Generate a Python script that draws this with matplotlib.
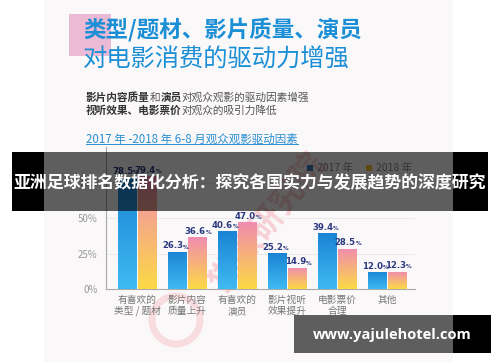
import numpy as np
import matplotlib
matplotlib.use('Agg')
import matplotlib.pyplot as plt
from matplotlib.patches import Rectangle, Circle
from matplotlib.colors import LinearSegmentedColormap
from matplotlib import font_manager

plt.rcParams['font.family'] = ['Noto Sans CJK SC', 'DejaVu Sans']

# data
categories = ['有喜欢的\n类型 / 题材', '影片内容\n质量上升', '有喜欢的\n演员',
              '影片视听\n效果提升', '电影票价\n合理', '其他']
vals_2017 = [78.5, 26.3, 40.6, 25.2, 39.4, 12.0]
vals_2018 = [79.4, 36.6, 47.0, 14.9, 28.5, 12.3]
series_names = ['2017 年', '2018 年']
y_ticks = [0, 25, 50, 75]
y_tick_labels = ['0%', '25%', '50%', '75%']

# narrow bold face for the value labels if one is installed
narrow = None
for f in font_manager.fontManager.ttflist:
    n = f.name.lower()
    if ('narrow' in n or 'condensed' in n or f.stretch == 'condensed') and f.weight in (700, 'bold'):
        narrow = f.fname
        break


def lab_font(size):
    if narrow:
        return font_manager.FontProperties(fname=narrow, size=size)
    return font_manager.FontProperties(family='DejaVu Sans', weight='bold', size=size * 0.85)


W, H = 500, 362
fig = plt.figure(figsize=(W / 100, H / 100), dpi=100)
fig.patch.set_facecolor('white')

# background layer in pixel coords
bg = fig.add_axes([0, 0, 1, 1], zorder=0)
bg.set_xlim(0, W)
bg.set_ylim(H, 0)
bg.axis('off')
bg.add_patch(Rectangle((44, 0), 409, H, color='#fbf8fa', lw=0))
bg.add_patch(Rectangle((69, 14), 42, 42, color='#ebbad4', lw=0))

blue = '#1b8fd6'
bg.text(83, 30, '类型/题材、影片质量、演员', fontsize=16.2, weight='bold',
        color=blue, va='center', ha='left')
bg.text(83, 60, '对电影消费的驱动力增强', fontsize=17.5, color=blue,
        va='center', ha='left')


def chain(parts, x, y, size):
    prev = None
    for txt, bold in parts:
        kw = dict(fontsize=size, weight='bold' if bold else 'normal',
                  color='#333333' if bold else '#555555', va='bottom', ha='left')
        if prev is None:
            prev = bg.text(x, y, txt, **kw)
        else:
            prev = bg.annotate(txt, xy=(1, 0), xycoords=prev, **kw)


chain([('影片内容质量', True), ('和', False), ('演员', True),
       ('对观众观影的驱动因素增强', False)], 86, 103, 7.7)
chain([('视听效果、电影票价', True), ('对观众的吸引力降低', False)], 86, 116, 7.7)

bg.text(86, 139, '2017 年 -2018 年 6-8 月观众观影驱动因素', fontsize=8.3,
        color='#2a8fd0', va='center', ha='left')
bg.plot([86, 298], [143.5, 143.5], color='#2a8fd0', lw=0.7)

# watermark
bg.text(268, 222, '猫眼研究院', fontsize=24, color='#e8404a', alpha=0.22,
        rotation=52, ha='center', va='center', weight='bold')
bg.add_patch(Circle((176, 320), 24, fill=False, ec='#e8404a', lw=5, alpha=0.15))

# legend
bg.add_patch(Rectangle((307, 165), 6, 6, color='#1a7fc8', lw=0))
bg.text(317, 168, series_names[0], fontsize=7.5, color='#888888', va='center')
bg.add_patch(Rectangle((366, 165), 6, 6, color='#f0c232', lw=0))
bg.text(376, 168, series_names[1], fontsize=7.5, color='#888888', va='center')

# chart axes
x0, x1, yb, yt = 106, 415, 289, 147
ax = fig.add_axes([x0 / W, (H - yb) / H, (x1 - x0) / W, (yb - yt) / H], zorder=5)
ax.patch.set_alpha(0)
x = np.arange(len(categories))
bw = 0.37
bars17 = ax.bar(x - bw / 2 - 0.01, vals_2017, bw, color='none', lw=0, zorder=3)
bars18 = ax.bar(x + bw / 2 + 0.01, vals_2018, bw, color='none', lw=0, zorder=3)

cm17 = LinearSegmentedColormap.from_list('b', ['#3fbaf2', '#1a84d4'])
cm18 = LinearSegmentedColormap.from_list('p', ['#fcd946', '#f7b27a', '#f18cb0'])
grad = np.linspace(0, 1, 100).reshape(-1, 1)
for bars, cm, dx in ((bars17, cm17, -3.4), (bars18, cm18, -1.0)):
    for b in bars:
        bx, by = b.get_x(), b.get_height()
        im = ax.imshow(grad, cmap=cm, origin='lower', aspect='auto',
                       extent=(bx, bx + b.get_width(), 0, by), zorder=3)
        im.set_clip_path(b)
        num = ax.annotate(f'{by:.1f}', xy=(bx + b.get_width() / 2, by),
                          xytext=(dx, 1), textcoords='offset points',
                          ha='center', va='bottom', fontproperties=lab_font(6.8),
                          color='#2b3a80', zorder=4)
        ax.annotate('%', xy=(1, 0.08), xycoords=num, ha='left', va='bottom',
                    fontproperties=lab_font(4.6), color='#2b3a80', zorder=4)

ax.set_xlim(-0.62, 5.56)
ax.set_ylim(0, 100)
ax.set_yticks(y_ticks)
ax.set_yticklabels(y_tick_labels, fontsize=7, color='#999999')
ax.set_xticks(x)
ax.set_xticklabels(categories, fontsize=7, color='#777777', linespacing=1.15)
ax.tick_params(length=0, pad=6)
ax.tick_params(axis='x', pad=4)
for s in ('top', 'right'):
    ax.spines[s].set_visible(False)
for s in ('left', 'bottom'):
    ax.spines[s].set_color('#aaaaaa')
    ax.spines[s].set_linewidth(0.8)
ax.grid(axis='y', color='#e8e8e8', lw=0.6, zorder=0)
ax.set_axisbelow(True)

# overlay banners
fg = fig.add_axes([0, 0, 1, 1], zorder=10)
fg.set_xlim(0, W)
fg.set_ylim(H, 0)
fg.axis('off')
fg.patch.set_alpha(0)
fg.add_patch(Rectangle((12, 152), 32, 59, color='black', lw=0))
fg.add_patch(Rectangle((453, 152), 35, 59, color='black', lw=0))
fg.add_patch(Rectangle((44, 152), 409, 59, color='black', alpha=0.62, lw=0))
fg.text(250, 183, '亚洲足球排名数据化分析：探究各国实力与发展趋势的深度研究',
        fontsize=12.2, weight='bold', color='white', ha='center', va='center')

fg.add_patch(Rectangle((294, 315), 159, 38, color='black', alpha=0.62, lw=0))
fg.add_patch(Rectangle((453, 315), 38, 38, color='black', lw=0))
fg.text(392, 335, 'www.yajulehotel.com', fontsize=10.5, weight='bold',
        color='white', ha='center', va='center', family=['Open Sans', 'DejaVu Sans'])

fig.savefig('out.png', dpi=100)
